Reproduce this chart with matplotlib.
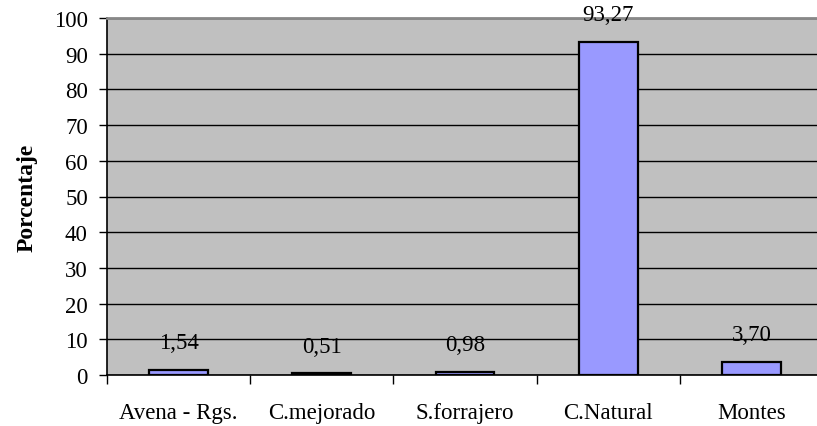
import matplotlib.pyplot as plt
import numpy as np

plt.rcParams['font.family'] = ['Liberation Serif', 'DejaVu Serif']

categorias = ["Avena - Rgs.", "C.mejorado", "S.forrajero", "C.Natural", "Montes"]
porcentajes = [1.54, 0.51, 0.98, 93.27, 3.70]
yticks = list(range(0, 101, 10))

W, H = 817, 427
FS = 16.5
fig = plt.figure(figsize=(W / 100, H / 100), dpi=100)
ax = fig.add_axes([107 / W, (H - 376) / H, (823 - 107) / W, (376 - 19) / H])
ax.set_facecolor("#C0C0C0")

x = np.arange(len(categorias))
ax.bar(x, porcentajes, width=0.41, color="#9999FF", edgecolor="black", linewidth=1.6, zorder=3)

for xi, v in zip(x, porcentajes):
    ax.annotate(f"{v:.2f}".replace(".", ","), (xi, v), xytext=(0, 19.5),
                textcoords="offset points", ha="center", va="center", fontsize=FS, zorder=4)

ax.set_xlim(-0.5, len(categorias) - 0.5)
ax.set_ylim(0, 100)
ax.set_yticks(yticks)
ax.yaxis.grid(True, color="black", linewidth=1)
ax.set_axisbelow(True)

# category labels centred, tick marks on the boundaries
ax.set_xticks(x)
ax.set_xticklabels(categorias, fontsize=FS)
ax.tick_params(axis="x", length=0, pad=19.5)
ax.set_xticks(np.arange(len(categorias) + 1) - 0.5, minor=True)
ax.tick_params(axis="x", which="minor", length=6.5, width=1, color="black")
ax.tick_params(axis="y", length=5.8, width=1, labelsize=FS, pad=8)

ax.set_ylabel("Porcentaje", fontsize=FS + 0.5, fontweight="bold", va="center")
ax.yaxis.set_label_coords(-0.112, 0.5)

ax.spines["left"].set_linewidth(1.2)
ax.spines["bottom"].set_linewidth(1.2)
ax.spines["top"].set_color("#888888")
ax.spines["top"].set_linewidth(2)
ax.spines["right"].set_visible(False)

fig.savefig("out.png", dpi=100)
